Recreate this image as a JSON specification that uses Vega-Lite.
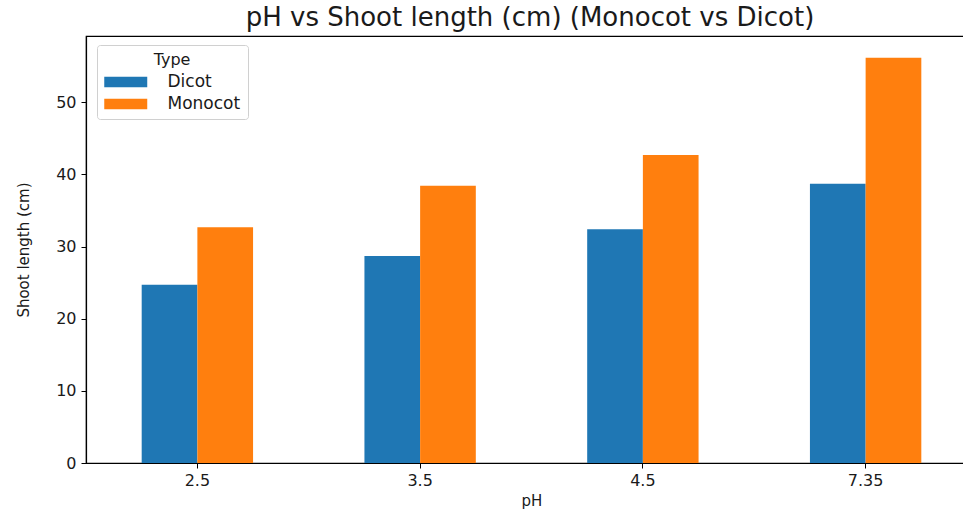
{
  "$schema": "https://vega.github.io/schema/vega-lite/v6.json",
  "autosize": "none",
  "padding": {"left": 86, "top": 36, "right": 0, "bottom": 49},
  "width": 878,
  "height": 427,
  "background": "white",
  "title": {
    "text": "pH vs Shoot length (cm) (Monocot vs Dicot)",
    "font": "DejaVu Sans",
    "fontSize": 26,
    "fontWeight": "normal",
    "color": "#1a1a1a",
    "anchor": "middle",
    "frame": "group",
    "dx": 5,
    "dy": 16,
    "offset": 0,
    "baseline": "alphabetic"
  },
  "data": {
    "values": [
      {"pH": "2.5", "Type": "Dicot", "length": 24.7},
      {"pH": "2.5", "Type": "Monocot", "length": 32.7},
      {"pH": "3.5", "Type": "Dicot", "length": 28.7},
      {"pH": "3.5", "Type": "Monocot", "length": 38.45},
      {"pH": "4.5", "Type": "Dicot", "length": 32.4},
      {"pH": "4.5", "Type": "Monocot", "length": 42.7},
      {"pH": "7.35", "Type": "Dicot", "length": 38.7},
      {"pH": "7.35", "Type": "Monocot", "length": 56.2}
    ]
  },
  "mark": {"type": "bar"},
  "encoding": {
    "x": {
      "field": "pH",
      "type": "nominal",
      "sort": ["2.5", "3.5", "4.5", "7.35"],
      "scale": {"range": [0, 891], "paddingInner": 0.5, "paddingOuter": 0.25},
      "axis": {"title": "pH", "labelAngle": 0}
    },
    "xOffset": {
      "field": "Type",
      "type": "nominal",
      "scale": {"paddingInner": 0, "paddingOuter": 0}
    },
    "y": {
      "field": "length",
      "type": "quantitative",
      "scale": {"domain": [0, 59.2], "nice": false},
      "axis": {"title": "Shoot length (cm)", "values": [0, 10, 20, 30, 40, 50]}
    },
    "color": {
      "field": "Type",
      "type": "nominal",
      "scale": {"domain": ["Dicot", "Monocot"], "range": ["#1f77b4", "#ff7f0e"]},
      "legend": {
        "orient": "none",
        "legendX": 11,
        "legendY": 9,
        "title": "Type",
        "titleAnchor": "middle",
        "titleAlign": "center",
        "titleFont": "DejaVu Sans",
        "titleFontSize": 16,
        "titleFontWeight": "normal",
        "titleColor": "#1a1a1a",
        "titlePadding": 3,
        "labelFont": "DejaVu Sans",
        "labelFontSize": 17,
        "labelColor": "#1a1a1a",
        "labelOffset": 41.5,
        "symbolType": "M-1,-0.5H3V0.5H-1Z",
        "symbolSize": 462,
        "symbolStrokeWidth": 0,
        "symbolOpacity": 1,
        "rowPadding": 3,
        "padding": 7,
        "fillColor": "white",
        "strokeColor": "#d0d0d0",
        "cornerRadius": 3
      }
    }
  },
  "config": {
    "font": "DejaVu Sans",
    "view": {"stroke": "black", "strokeWidth": 1.2},
    "axis": {
      "grid": false,
      "domainColor": "black",
      "domainWidth": 1.2,
      "tickColor": "black",
      "tickSize": 5,
      "tickWidth": 1,
      "labelFont": "DejaVu Sans",
      "labelFontSize": 16,
      "labelColor": "#1a1a1a",
      "labelPadding": 4,
      "titleFont": "DejaVu Sans",
      "titleFontSize": 15,
      "titleFontWeight": "normal",
      "titleColor": "#1a1a1a"
    },
    "axisX": {"titlePadding": 5},
    "axisY": {"titlePadding": 24, "labelPadding": 5}
  }
}
